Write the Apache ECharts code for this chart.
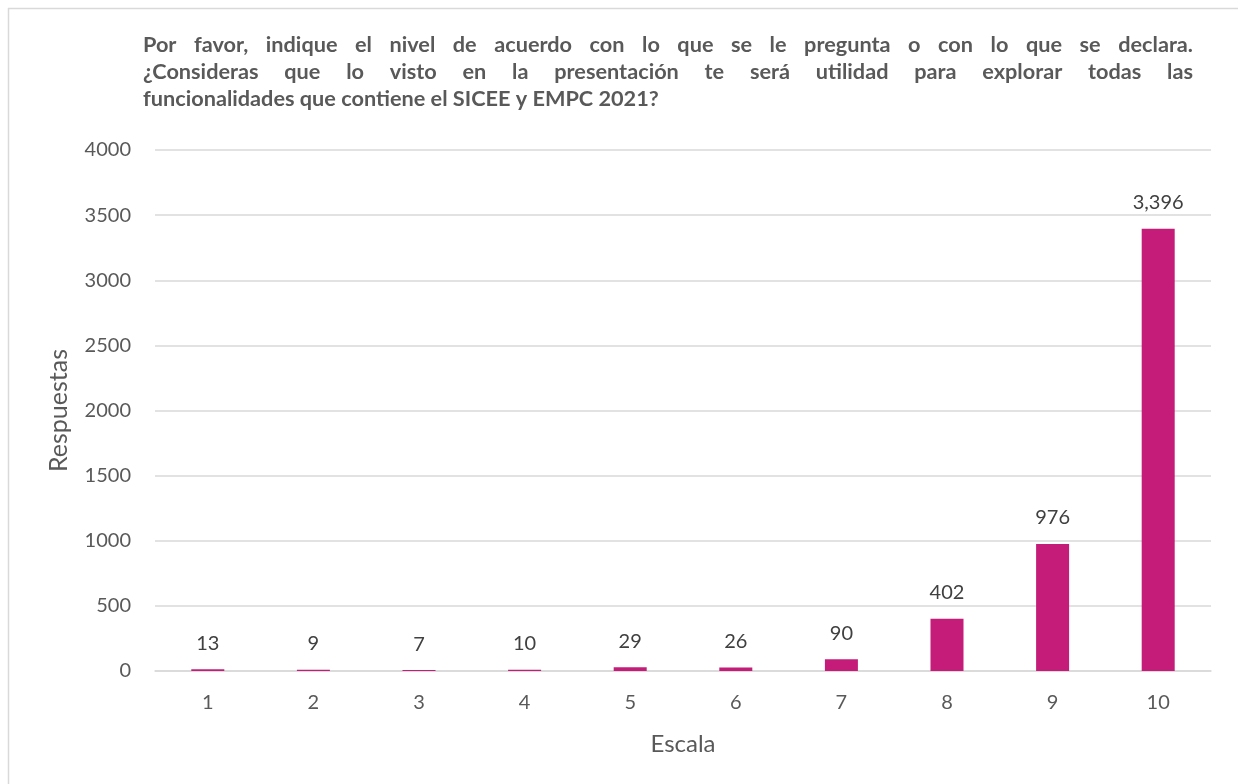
<!DOCTYPE html>
<html>
<head>
<meta charset="utf-8">
<script src="https://cdn.jsdelivr.net/npm/echarts@6/dist/echarts.min.js"></script>
<style>html,body{margin:0;padding:0;background:#fff}#c{width:1238px;height:784px}</style>
</head>
<body>
<div id="c"></div>
<script>
const categories = ['1','2','3','4','5','6','7','8','9','10'];
const values = [13, 9, 7, 10, 29, 26, 90, 402, 976, 3396];
const yTicks = [0, 500, 1000, 1500, 2000, 2500, 3000, 3500, 4000];
const titleLines = [
  'Por favor, indique el nivel de acuerdo con lo que se le pregunta o con lo que se declara.',
  '¿Consideras que lo visto en la presentación te será utilidad para explorar todas las',
  'funcionalidades que contiene el SICEE y EMPC 2021?'
];
const yName = 'Respuestas';
const xName = 'Escala';

const FONT = 'Lato, "Noto Sans", sans-serif';
const cv = document.createElement('canvas').getContext('2d');

// size the title font so the last (unjustified) line spans about 517px
cv.font = 'bold 20px ' + FONT;
const refW = cv.measureText(titleLines[2]).width;
const titleSize = Math.round(20 * 517 / refW * 10) / 10;
cv.font = 'bold ' + titleSize + 'px ' + FONT;

const titleLeft = 143, titleRight = 1193, titleTop0 = 45, lineH = 27;
const graphics = [];
titleLines.forEach((line, i) => {
  const y = titleTop0 + i * lineH;
  const justify = i < titleLines.length - 1;
  const st = {fontSize: titleSize, fontWeight: 'bold', fontFamily: FONT, fill: '#595959', verticalAlign: 'middle'};
  if (!justify) {
    graphics.push({type:'text', x: titleLeft, y: y, style: Object.assign({text: line}, st)});
    return;
  }
  const words = line.split(' ');
  const widths = words.map(w => cv.measureText(w).width);
  const total = widths.reduce((a,b)=>a+b,0);
  const gap = (titleRight - titleLeft - total) / (words.length - 1);
  let x = titleLeft;
  words.forEach((w, k) => {
    graphics.push({type:'text', x: x, y: y, style: Object.assign({text: w}, st)});
    x += widths[k] + gap;
  });
});
graphics.push({type:'rect', shape:{x:8.5, y:8.5, width:1260, height:800}, style:{fill:null, stroke:'#d9d9d9', lineWidth:1.5}, silent:true, z:-1});

const chart = echarts.init(document.getElementById('c'));
chart.setOption({
  backgroundColor: '#fff',
  animation: false,
  graphic: graphics,
  grid: {left: 155, right: 27, top: 150, bottom: 113, containLabel: false},
  xAxis: {
    type: 'category',
    data: categories,
    name: xName,
    nameLocation: 'middle',
    nameGap: 61,
    nameTextStyle: {fontSize: 24, color: '#595959', fontFamily: FONT},
    axisLine: {lineStyle: {color: '#d9d9d9', width: 1.5}},
    axisTick: {show: false},
    axisLabel: {fontSize: 20, color: '#595959', fontFamily: FONT, margin: 22}
  },
  yAxis: {
    type: 'value',
    min: yTicks[0],
    max: yTicks[yTicks.length - 1],
    interval: yTicks[1] - yTicks[0],
    name: yName,
    nameLocation: 'middle',
    nameGap: 84,
    nameTextStyle: {fontSize: 25, color: '#595959', fontFamily: FONT},
    axisLine: {show: false},
    axisTick: {show: false},
    axisLabel: {fontSize: 20, color: '#595959', fontFamily: FONT, margin: 24, formatter: v => String(v)},
    splitLine: {lineStyle: {color: '#d9d9d9', width: 1.5}}
  },
  series: [{
    type: 'bar',
    data: values,
    barWidth: 33,
    itemStyle: {color: '#C41C78'},
    label: {
      show: true,
      position: 'top',
      distance: 16,
      fontSize: 20,
      color: '#404040',
      fontFamily: FONT,
      formatter: p => p.value.toLocaleString('en-US')
    }
  }]
});
</script>
</body>
</html>
